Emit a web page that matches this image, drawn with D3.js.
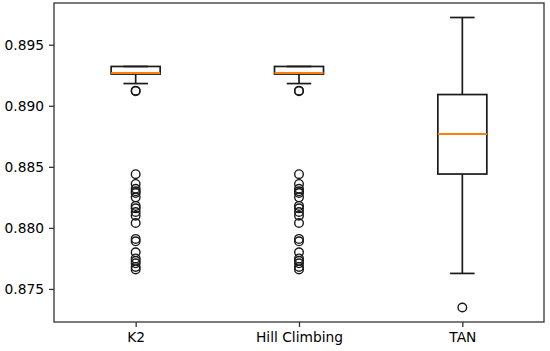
<!DOCTYPE html>
<html>
<head>
<meta charset="utf-8">
<script src="https://cdn.jsdelivr.net/npm/d3@7"></script>
<style>
  body { margin: 0; background: #fff; }
  text { font-family: "DejaVu Sans", sans-serif; font-size: 13.5px; fill: #000; }
</style>
</head>
<body>
<div id="graph"></div>
<script>
const WIDTH = 550
const HEIGHT = 351
const LEFT = 54
const RIGHT = 544
const TOP = 3
const BOTTOM = 322

const categories = ['K2', 'Hill Climbing', 'TAN']
const whiskerLow = [0.89182, 0.89182, 0.87627]
const q1 = [0.89260, 0.89260, 0.88441]
const median = [0.89268, 0.89268, 0.88769]
const q3 = [0.89322, 0.89322, 0.89092]
const whiskerHigh = [0.89322, 0.89322, 0.89723]
const k2Outliers = [0.89120, 0.89124, 0.88440, 0.88360, 0.88320, 0.88300, 0.88285, 0.88250,
    0.88180, 0.88160, 0.88130, 0.88100, 0.88040, 0.87910, 0.87890, 0.87800, 0.87750,
    0.87730, 0.87710, 0.87680, 0.87660]
const hillOutliers = [0.89120, 0.89124, 0.88440, 0.88360, 0.88320, 0.88300, 0.88285, 0.88250,
    0.88180, 0.88160, 0.88130, 0.88100, 0.88040, 0.87910, 0.87890, 0.87800, 0.87750,
    0.87730, 0.87710, 0.87680, 0.87660]
const tanOutliers = [0.87348]
const outliers = [k2Outliers, hillOutliers, tanOutliers]
const yTicks = [0.875, 0.880, 0.885, 0.890, 0.895]

const main = _ => {
    const boxes = categories.map((name, i) => ({
        name, pos: i + 1,
        lo: whiskerLow[i], q1: q1[i], med: median[i], q3: q3[i], hi: whiskerHigh[i],
        fliers: outliers[i]
    }))

    // matplotlib style 5% margins
    const all = boxes.flatMap(b => [b.lo, b.hi, ...b.fliers])
    const [minV, maxV] = d3.extent(all)
    const pad = (maxV - minV) * 0.05

    const x = d3.scaleLinear().domain([0.5, 3.5]).range([LEFT, RIGHT])
    const y = d3.scaleLinear().domain([minV - pad, maxV + pad]).range([BOTTOM, TOP])

    const BOX_W = 0.3
    const CAP_W = 0.15

    const svg = d3.select('#graph')
        .append('svg')
        .attr('width', WIDTH)
        .attr('height', HEIGHT)

    const g = svg.selectAll('g.box')
        .data(boxes)
        .enter()
        .append('g')
        .attr('class', 'box')
        .attr('stroke', '#1a1a1a')
        .attr('stroke-width', 1.7)
        .attr('fill', 'none')

    // whiskers
    g.append('line')
        .attr('x1', d => x(d.pos)).attr('x2', d => x(d.pos))
        .attr('y1', d => y(d.lo)).attr('y2', d => y(d.q1))
    g.append('line')
        .attr('x1', d => x(d.pos)).attr('x2', d => x(d.pos))
        .attr('y1', d => y(d.q3)).attr('y2', d => y(d.hi))

    // caps
    g.append('line')
        .attr('x1', d => x(d.pos - CAP_W / 2)).attr('x2', d => x(d.pos + CAP_W / 2))
        .attr('y1', d => y(d.lo)).attr('y2', d => y(d.lo))
    g.append('line')
        .attr('x1', d => x(d.pos - CAP_W / 2)).attr('x2', d => x(d.pos + CAP_W / 2))
        .attr('y1', d => y(d.hi)).attr('y2', d => y(d.hi))

    // box
    g.append('rect')
        .attr('x', d => x(d.pos - BOX_W / 2))
        .attr('width', d => x(d.pos + BOX_W / 2) - x(d.pos - BOX_W / 2))
        .attr('y', d => y(d.q3))
        .attr('height', d => y(d.q1) - y(d.q3))

    // median
    g.append('line')
        .attr('stroke', '#ff7f0e')
        .attr('stroke-width', 2)
        .attr('x1', d => x(d.pos - BOX_W / 2)).attr('x2', d => x(d.pos + BOX_W / 2))
        .attr('y1', d => y(d.med)).attr('y2', d => y(d.med))

    // fliers
    g.selectAll('circle')
        .data(d => d.fliers.map(v => ({ pos: d.pos, v })))
        .enter()
        .append('circle')
        .attr('r', 4.3)
        .attr('stroke-width', 1.4)
        .attr('cx', d => x(d.pos))
        .attr('cy', d => y(d.v))

    const xAxis = d3.axisBottom(x)
        .tickValues(boxes.map(b => b.pos))
        .tickFormat((d, i) => categories[i])
        .tickSize(5)
        .tickPadding(5)

    svg.append('g')
        .attr('transform', `translate(0, ${BOTTOM})`)
        .call(xAxis)
        .call(a => a.select('.domain').remove())

    const yAxis = d3.axisLeft(y)
        .tickValues(yTicks)
        .tickFormat(d3.format('.3f'))
        .tickSize(5)
        .tickPadding(5)

    svg.append('g')
        .attr('transform', `translate(${LEFT}, 0)`)
        .call(yAxis)
        .call(a => a.select('.domain').remove())

    svg.selectAll('.tick line').attr('stroke', '#333').attr('stroke-width', 1.3)
    svg.selectAll('.tick text')
        .style('font-size', '13.8px')
        .style('font-family', '"DejaVu Sans", sans-serif')
        .attr('fill', '#1a1a1a')

    // frame
    svg.append('rect')
        .attr('x', LEFT).attr('y', TOP)
        .attr('width', RIGHT - LEFT).attr('height', BOTTOM - TOP)
        .attr('fill', 'none')
        .attr('stroke', '#333')
        .attr('stroke-width', 1.3)
}

document.addEventListener('DOMContentLoaded', main)
</script>
</body>
</html>
